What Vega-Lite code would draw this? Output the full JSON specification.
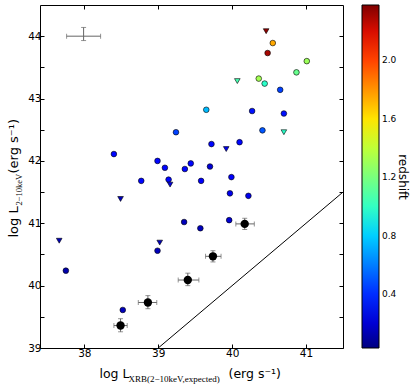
{
  "$schema": "https://vega.github.io/schema/vega-lite/v6.json",
  "width": 303,
  "height": 343,
  "autosize": {"type": "none"},
  "padding": {"left": 40, "top": 5, "right": 72, "bottom": 40},
  "background": "white",
  "config": {
    "view": {"stroke": "black", "strokeWidth": 1},
    "font": "DejaVu Sans",
    "axis": {
      "grid": false,
      "domainColor": "black",
      "tickColor": "black",
      "labelColor": "black",
      "titleColor": "black",
      "labelFont": "DejaVu Sans",
      "labelFontSize": 10.5,
      "titleFont": "DejaVu Sans",
      "titleFontWeight": "normal",
      "titleFontSize": 12.5
    }
  },
  "datasets": {
    "pts": [
      {"x": 39.24, "y": 42.46, "z": 0.45, "lim": "detection"},
      {"x": 38.40, "y": 42.11, "z": 0.3, "lim": "detection"},
      {"x": 38.99, "y": 42.00, "z": 0.3, "lim": "detection"},
      {"x": 39.09, "y": 41.89, "z": 0.3, "lim": "detection"},
      {"x": 39.36, "y": 41.87, "z": 0.3, "lim": "detection"},
      {"x": 39.44, "y": 41.96, "z": 0.3, "lim": "detection"},
      {"x": 38.77, "y": 41.68, "z": 0.3, "lim": "detection"},
      {"x": 39.14, "y": 41.70, "z": 0.3, "lim": "detection"},
      {"x": 39.16, "y": 41.62, "z": 0.22, "lim": "upper limit"},
      {"x": 38.49, "y": 41.39, "z": 0.15, "lim": "upper limit"},
      {"x": 39.35, "y": 41.02, "z": 0.15, "lim": "detection"},
      {"x": 39.65, "y": 42.82, "z": 0.75, "lim": "detection"},
      {"x": 40.27, "y": 42.80, "z": 0.33, "lim": "detection"},
      {"x": 40.70, "y": 42.76, "z": 0.33, "lim": "detection"},
      {"x": 40.41, "y": 42.49, "z": 0.5, "lim": "detection"},
      {"x": 40.70, "y": 42.46, "z": 0.98, "lim": "upper limit"},
      {"x": 39.72, "y": 42.27, "z": 0.3, "lim": "detection"},
      {"x": 40.10, "y": 42.30, "z": 0.3, "lim": "detection"},
      {"x": 39.92, "y": 42.19, "z": 0.25, "lim": "upper limit"},
      {"x": 39.70, "y": 41.91, "z": 0.2, "lim": "detection"},
      {"x": 39.58, "y": 41.68, "z": 0.28, "lim": "detection"},
      {"x": 39.99, "y": 41.74, "z": 0.28, "lim": "detection"},
      {"x": 39.97, "y": 41.48, "z": 0.25, "lim": "detection"},
      {"x": 40.22, "y": 41.44, "z": 0.25, "lim": "detection"},
      {"x": 39.57, "y": 40.92, "z": 0.15, "lim": "detection"},
      {"x": 39.96, "y": 41.05, "z": 0.2, "lim": "detection"},
      {"x": 37.66, "y": 40.72, "z": 0.15, "lim": "upper limit"},
      {"x": 37.75, "y": 40.24, "z": 0.12, "lim": "detection"},
      {"x": 39.02, "y": 40.69, "z": 0.15, "lim": "upper limit"},
      {"x": 38.99, "y": 40.56, "z": 0.15, "lim": "detection"},
      {"x": 38.52, "y": 39.61, "z": 0.15, "lim": "detection"},
      {"x": 40.46, "y": 44.08, "z": 2.35, "lim": "upper limit"},
      {"x": 40.55, "y": 43.89, "z": 1.75, "lim": "detection"},
      {"x": 40.48, "y": 43.73, "z": 2.3, "lim": "detection"},
      {"x": 41.01, "y": 43.60, "z": 1.3, "lim": "detection"},
      {"x": 40.87, "y": 43.42, "z": 1.15, "lim": "detection"},
      {"x": 40.07, "y": 43.28, "z": 1.05, "lim": "upper limit"},
      {"x": 40.36, "y": 43.32, "z": 1.32, "lim": "detection"},
      {"x": 40.44, "y": 43.24, "z": 0.98, "lim": "detection"},
      {"x": 40.65, "y": 43.14, "z": 0.45, "lim": "detection"}
    ],
    "stack": [
      {"x": 38.49, "y": 39.36, "xlo": 38.40, "xhi": 38.58, "ylo": 39.26, "yhi": 39.47, "kind": "stack"},
      {"x": 38.86, "y": 39.73, "xlo": 38.73, "xhi": 38.98, "ylo": 39.63, "yhi": 39.84, "kind": "stack"},
      {"x": 39.40, "y": 40.09, "xlo": 39.27, "xhi": 39.55, "ylo": 40.00, "yhi": 40.20, "kind": "stack"},
      {"x": 39.74, "y": 40.47, "xlo": 39.64, "xhi": 39.85, "ylo": 40.38, "yhi": 40.56, "kind": "stack"},
      {"x": 40.17, "y": 40.99, "xlo": 40.05, "xhi": 40.30, "ylo": 40.90, "yhi": 41.08, "kind": "stack"},
      {"x": 37.99, "y": 44.00, "xlo": 37.76, "xhi": 38.22, "ylo": 43.93, "yhi": 44.14, "kind": "typical"}
    ],
    "oneone": [
      {"x": 39.0, "y": 39.0},
      {"x": 41.5, "y": 41.5}
    ]
  },
  "resolve": {"axis": {"x": "independent", "y": "independent"}},
  "layer": [
    {
      "data": {"name": "oneone"},
      "mark": {"type": "line", "color": "black", "strokeWidth": 1, "clip": true},
      "encoding": {
        "x": {
          "field": "x", "type": "quantitative",
          "scale": {"domain": [37.4, 41.5], "nice": false, "zero": false},
          "axis": {
            "orient": "bottom", "values": [38, 39, 40, 41], "format": "d",
            "tickSize": -4, "labelPadding": 4, "domain": false,
            "title": "log L", "titleAlign": "left", "titleBaseline": "alphabetic",
            "titleX": 59, "titleY": 29, "titleAnchor": null
          }
        },
        "y": {
          "field": "y", "type": "quantitative",
          "scale": {"domain": [39, 44.5], "nice": false, "zero": false},
          "axis": {
            "orient": "left", "values": [39, 39.5, 40, 40.5, 41, 41.5, 42, 42.5, 43, 43.5, 44],
            "labelExpr": "datum.value % 1 === 0 ? format(datum.value, 'd') : ''",
            "tickSize": -4, "labelPadding": 3, "domain": false,
            "title": "log L", "titleAngle": 270, "titleAlign": "left", "titleBaseline": "alphabetic",
            "titleX": -23, "titleY": 232, "titleFontSize": 13, "titleAnchor": null
          }
        }
      }
    },
    {
      "data": {"name": "stack"},
      "mark": {"type": "rule", "color": "#666666", "strokeWidth": 1},
      "encoding": {
        "x": {
          "field": "xlo", "type": "quantitative",
          "axis": {"orient": "top", "values": [38, 39, 40, 41], "labels": false, "tickSize": -4, "domain": false, "title": null}
        },
        "x2": {"field": "xhi"},
        "y": {
          "field": "y", "type": "quantitative",
          "axis": {"orient": "right", "values": [39, 39.5, 40, 40.5, 41, 41.5, 42, 42.5, 43, 43.5, 44], "labels": false, "tickSize": -4, "domain": false, "title": null}
        }
      }
    },
    {
      "data": {"name": "stack"},
      "mark": {"type": "rule", "color": "#666666", "strokeWidth": 1},
      "encoding": {
        "x": {"field": "x", "type": "quantitative", "axis": null},
        "y": {"field": "ylo", "type": "quantitative", "axis": null},
        "y2": {"field": "yhi"}
      }
    },
    {
      "data": {"name": "stack"},
      "transform": [{"fold": ["xlo", "xhi"], "as": ["side", "xe"]}],
      "mark": {"type": "tick", "orient": "vertical", "color": "#666666", "size": 5, "thickness": 1},
      "encoding": {
        "x": {"field": "xe", "type": "quantitative", "axis": null},
        "y": {"field": "y", "type": "quantitative", "axis": null}
      }
    },
    {
      "data": {"name": "stack"},
      "transform": [{"fold": ["ylo", "yhi"], "as": ["side", "ye"]}],
      "mark": {"type": "tick", "orient": "horizontal", "color": "#666666", "size": 5, "thickness": 1},
      "encoding": {
        "x": {"field": "x", "type": "quantitative", "axis": null},
        "y": {"field": "ye", "type": "quantitative", "axis": null}
      }
    },
    {
      "data": {"name": "stack"},
      "transform": [{"filter": "datum.kind === 'stack'"}],
      "mark": {"type": "point", "shape": "circle", "filled": true, "color": "black", "size": 70, "opacity": 1},
      "encoding": {
        "x": {
          "field": "x", "type": "quantitative",
          "axis": {
            "orient": "bottom", "labels": false, "ticks": false, "domain": false,
            "title": "XRB(2−10keV,expected)", "titleFont": "Liberation Serif", "titleFontSize": 9,
            "titleAlign": "left", "titleBaseline": "alphabetic",
            "titleX": 88, "titleY": 33, "titleAnchor": null
          }
        },
        "y": {
          "field": "y", "type": "quantitative",
          "axis": {
            "orient": "left", "labels": false, "ticks": false, "domain": false,
            "title": "2−10keV", "titleFont": "Liberation Serif", "titleFontSize": 8.5,
            "titleAngle": 270, "titleAlign": "left", "titleBaseline": "alphabetic",
            "titleX": -19, "titleY": 200, "titleAnchor": null
          }
        }
      }
    },
    {
      "data": {"name": "pts"},
      "mark": {"type": "point", "filled": true, "size": 32, "stroke": "black", "strokeWidth": 0.6, "opacity": 1},
      "encoding": {
        "x": {
          "field": "x", "type": "quantitative",
          "axis": {
            "orient": "bottom", "labels": false, "ticks": false, "domain": false,
            "title": "(erg s⁻¹)",
            "titleAlign": "left", "titleBaseline": "alphabetic",
            "titleX": 188, "titleY": 29, "titleAnchor": null
          }
        },
        "y": {
          "field": "y", "type": "quantitative",
          "axis": {
            "orient": "left", "labels": false, "ticks": false, "domain": false,
            "title": "(erg s⁻¹)", "titleFontSize": 13,
            "titleAngle": 270, "titleAlign": "left", "titleBaseline": "alphabetic",
            "titleX": -23, "titleY": 168, "titleAnchor": null
          }
        },
        "shape": {
          "field": "lim", "type": "nominal",
          "scale": {"domain": ["detection", "upper limit"], "range": ["circle", "triangle-down"]},
          "legend": null
        },
        "fill": {
          "field": "z", "type": "quantitative",
          "scale": {
            "domain": [0.03, 0.2885, 0.829, 0.911, 1.205, 1.534, 1.581, 2.121, 2.38],
            "range": ["#000080", "#0000ff", "#00dbff", "#14ffe2", "#7bff7b", "#eeff08", "#ffec00", "#ff1200", "#800000"],
            "interpolate": "rgb"
          },
          "legend": {
            "orient": "none", "legendX": 322, "legendY": 0, "padding": 0,
            "direction": "vertical", "gradientLength": 343, "gradientThickness": 17,
            "gradientStrokeColor": "black", "gradientStrokeWidth": 1,
            "values": [0.4, 0.8, 1.2, 1.6, 2.0], "format": ".1f",
            "labelFont": "DejaVu Sans", "labelFontSize": 9, "labelColor": "black", "labelOffset": 3,
            "title": "redshift", "titleOrient": "right", "titleAngle": 270, "titleAnchor": "middle",
            "titleFont": "DejaVu Sans", "titleFontSize": 12, "titleFontWeight": "normal", "titleColor": "black",
            "titlePadding": 3, "titleBaseline": "alphabetic"
          }
        }
      }
    }
  ]
}
